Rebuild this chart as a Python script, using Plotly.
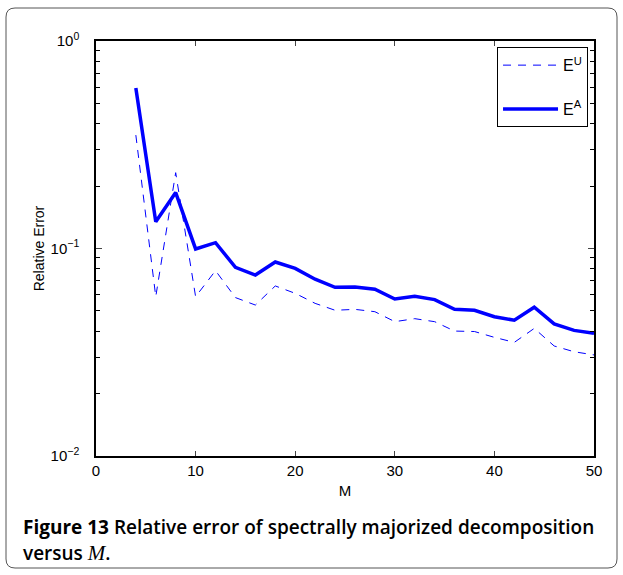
import plotly.graph_objects as go

M = [4, 6, 8, 10, 12, 14, 16, 18, 20, 22, 24, 26, 28, 30, 32, 34, 36, 38, 40, 42, 44, 46, 48, 50]
E_U = [0.352, 0.0586, 0.232, 0.0586, 0.0782, 0.058, 0.0534, 0.0660, 0.0608, 0.0544, 0.0504, 0.0509,
       0.0496, 0.0444, 0.0459, 0.0444, 0.0400, 0.0398, 0.0373, 0.0353, 0.0412, 0.0339, 0.0318, 0.0307]
E_A = [0.594, 0.1346, 0.186, 0.0995, 0.1067, 0.0811, 0.0745, 0.0861, 0.0802, 0.0711, 0.0650, 0.0653,
       0.0636, 0.0571, 0.0588, 0.0567, 0.0509, 0.0504, 0.0469, 0.0451, 0.0521, 0.0433, 0.0403, 0.0390]
x_ticks = [0, 10, 20, 30, 40, 50]
y_ticks = [1, 0.1, 0.01]
y_ticktext = ["10<sup>0</sup>", "10<sup>−1</sup>", "10<sup>−2</sup>"]
y_minor = [d * 10 ** e for e in (-2, -1) for d in range(2, 10)]

W, H = 623, 575
L, R, T, B = 96, 594, 41, 456

fig = go.Figure()
fig.add_trace(go.Scatter(x=M, y=E_U, mode="lines", name="E<sup>U</sup>", legendgroup="u",
                         line=dict(color="#0000ff", width=1, dash="8px,7px")))
fig.add_trace(go.Scatter(x=M, y=E_A, mode="lines", name="E<sup>A</sup>", legendgroup="a",
                         line=dict(color="#0000ff", width=3.5)))
# invisible traces driving tick-only axes (right mirror and left minor ticks)
fig.add_trace(go.Scatter(x=[None], y=[None], yaxis="y2", showlegend=False, hoverinfo="skip"))
fig.add_trace(go.Scatter(x=[None], y=[None], yaxis="y3", showlegend=False, hoverinfo="skip"))

axfont = dict(family="Liberation Sans, Arial", size=15, color="black")
minor = dict(tickmode="array", tickvals=y_minor, ticks="inside", ticklen=4,
             showgrid=False, tickcolor="black", tickwidth=1)
fig.update_layout(
    width=W, height=H,
    margin=dict(l=L, r=W - R, t=T, b=H - B, pad=0),
    paper_bgcolor="white", plot_bgcolor="white",
    showlegend=True,
    legend=dict(x=0.988, y=0.985, xanchor="right", yanchor="top",
                bordercolor="black", borderwidth=1, bgcolor="white",
                font=dict(family="Liberation Sans, Arial", size=16, color="black"),
                tracegroupgap=20, itemwidth=55),
    xaxis=dict(range=[0, 50], tickvals=x_ticks, ticks="inside", ticklen=5,
               showline=True, linecolor="black", linewidth=1.5, mirror="ticks",
               showgrid=False, zeroline=False, tickfont=axfont,
               title=dict(text="M", font=dict(family="Liberation Sans, Arial", size=15, color="black"),
                          standoff=8)),
    yaxis=dict(type="log", range=[-2, 0], tickmode="array", tickvals=y_ticks, ticktext=y_ticktext,
               ticks="inside", ticklen=6, ticklabelstandoff=12,
               showline=True, linecolor="black", linewidth=1.5, mirror=True,
               showgrid=False, zeroline=False, tickfont=axfont,
               title=dict(text="Relative Error", font=dict(family="Liberation Sans, Arial", size=14, color="black"),
                          standoff=3)),
    yaxis2=dict(type="log", range=[-2, 0], tickmode="array", tickvals=y_ticks, overlaying="y", side="right",
                ticks="inside", ticklen=6, showticklabels=False, showline=False,
                showgrid=False, zeroline=False, minor=minor),
    yaxis3=dict(type="log", range=[-2, 0], tickmode="array", tickvals=y_ticks, overlaying="y", side="left",
                ticks="inside", ticklen=6, showticklabels=False, showline=False,
                showgrid=False, zeroline=False, minor=minor),
)

# outer rounded frame (paper coords relative to plot area)
def px(x):
    return (x - L) / (R - L)

def py(y):
    return (B - y) / (B - T)

x0, x1, y0, y1, r = 6, 617, 8, 568, 9
path = (f"M {px(x0 + r)},{py(y0)} L {px(x1 - r)},{py(y0)} "
        f"Q {px(x1)},{py(y0)} {px(x1)},{py(y0 + r)} L {px(x1)},{py(y1 - r)} "
        f"Q {px(x1)},{py(y1)} {px(x1 - r)},{py(y1)} L {px(x0 + r)},{py(y1)} "
        f"Q {px(x0)},{py(y1)} {px(x0)},{py(y1 - r)} L {px(x0)},{py(y0 + r)} "
        f"Q {px(x0)},{py(y0)} {px(x0 + r)},{py(y0)} Z")
fig.add_shape(type="path", path=path, xref="paper", yref="paper",
              line=dict(color="#555555", width=1), layer="below")

cap_font = dict(family="Open Sans", size=19, color="black")
fig.add_annotation(xref="paper", yref="paper", x=px(21), y=py(527), xanchor="left", yanchor="middle",
                   showarrow=False, align="left", font=cap_font,
                   text="<b>Figure 13</b> <span style='font-weight:600'>Relative error of spectrally majorized decomposition</span>")
fig.add_annotation(xref="paper", yref="paper", x=px(21), y=py(553), xanchor="left", yanchor="middle",
                   showarrow=False, align="left", font=cap_font,
                   text="<span style='font-weight:600'>versus </span><span style=\"font-family:'Liberation Serif';font-style:italic;font-size:21px\">M</span><span style='font-weight:600'>.</span>")

fig.write_html("out.html")
